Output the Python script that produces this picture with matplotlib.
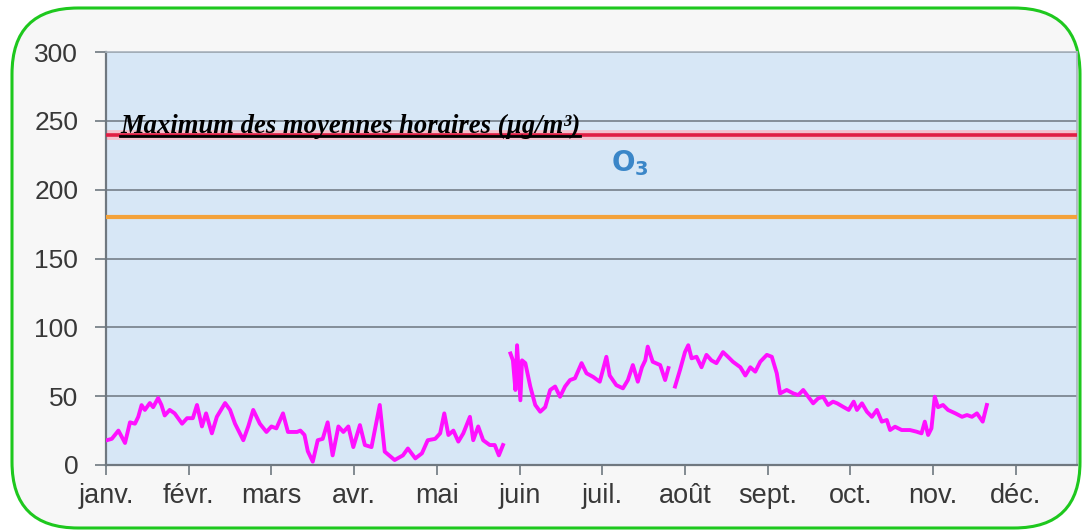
import numpy as np
import matplotlib
matplotlib.use("Agg")
import matplotlib.pyplot as plt
from matplotlib.patches import FancyBboxPatch
from matplotlib.lines import Line2D

# ---------------- data ----------------
months = ["janv.", "févr.", "mars", "avr.", "mai", "juin", "juil.", "août",
          "sept.", "oct.", "nov.", "déc."]
yticks = [0, 50, 100, 150, 200, 250, 300]

# time in months since 1 January, O3 hourly maximum (µg/m³)
seg1_t = [0.01, 0.07, 0.15, 0.23, 0.29, 0.35, 0.39, 0.43, 0.47, 0.53, 0.57, 0.63,
          0.67, 0.71, 0.77, 0.83, 0.92, 0.98, 1.05, 1.10, 1.16, 1.21, 1.28, 1.34,
          1.44, 1.50, 1.56, 1.66, 1.72, 1.78, 1.86, 1.94, 2.00, 2.06, 2.14, 2.20,
          2.31, 2.35, 2.40, 2.44, 2.50, 2.56, 2.62, 2.68, 2.74, 2.81, 2.87, 2.93,
          2.99, 3.07, 3.13, 3.21, 3.31, 3.37, 3.49, 3.59, 3.65, 3.74, 3.82, 3.89,
          3.98, 4.04, 4.09, 4.14, 4.20, 4.26, 4.32, 4.40, 4.44, 4.50, 4.56, 4.64,
          4.70, 4.75, 4.80]
seg1_v = [18, 19, 25, 16, 31, 30, 35, 43.5, 40, 45, 42, 48.6,
          43.6, 36, 40, 37.5, 30, 34, 34, 43.6, 28, 37.5, 23, 35,
          45, 40, 30, 18, 28, 40, 30, 24, 28, 26.6, 37.5, 24,
          24, 25, 21.8, 10, 2.4, 18, 19, 31, 7, 28, 24, 28,
          13, 29, 14.5, 13, 43.6, 9.7, 3.6, 7, 12, 4.8, 8.5, 18,
          19, 23, 37.5, 21.8, 25, 17, 23, 35, 18, 28, 18, 14.5,
          14.5, 7, 14.5]

seg2_t = [4.89, 4.92, 4.95, 4.97, 5.01, 5.03, 5.07, 5.13, 5.19, 5.25, 5.31, 5.37,
          5.43, 5.49, 5.55, 5.61, 5.67, 5.75, 5.81, 5.89, 5.97, 6.05, 6.09, 6.17,
          6.25, 6.31, 6.37, 6.43, 6.48, 6.52, 6.55, 6.61, 6.70, 6.76, 6.80]
seg2_v = [81, 76, 54.5, 87, 47, 76, 74, 57, 43.6, 38.7, 42, 54.5,
          57, 49.6, 57, 61.7, 63, 74, 66.6, 64, 60.5, 78.6, 65, 58,
          55.7, 61.7, 72.6, 60.5, 71, 76, 86, 75, 72.6, 61.7, 70.4]

seg3_t = [6.88, 6.94, 7.00, 7.04, 7.08, 7.14, 7.20, 7.26, 7.32, 7.38, 7.46, 7.52,
          7.58, 7.67, 7.73, 7.79, 7.85, 7.91, 7.99, 8.05, 8.11, 8.15, 8.23, 8.31,
          8.37, 8.43, 8.49, 8.55, 8.61, 8.67, 8.73, 8.79, 8.84, 8.92, 8.98, 9.04,
          9.08, 9.14, 9.20, 9.26, 9.32, 9.38, 9.44, 9.48, 9.54, 9.62, 9.72, 9.80,
          9.86, 9.90, 9.94, 9.98, 10.02, 10.06, 10.12, 10.18, 10.27, 10.35, 10.41,
          10.47, 10.53, 10.60, 10.65]
seg3_v = [57, 69, 82, 87, 77.5, 78.6, 71, 80, 76, 74, 82, 78.6,
          75, 71, 65, 71, 67.8, 75, 80, 78.6, 66.6, 52, 54.5, 52,
          50.8, 54.5, 49.6, 44.8, 48.4, 49.6, 43.6, 46, 44.8, 42, 40, 46,
          40, 44.8, 38.7, 35, 40, 31.5, 32.7, 25.4, 27.8, 25.4, 25.4, 24.2,
          23, 31.5, 21.8, 26.6, 49.6, 42, 43.6, 40, 37.5, 35, 36.3,
          35, 37.5, 31.5, 43.6]

threshold_info = 180   # orange
threshold_alert = 240  # red

title_text = "Maximum des moyennes horaires (µg/m³)"

# ---------------- figure ----------------
fig = plt.figure(figsize=(10.83, 5.30), dpi=100)
fig.patch.set_facecolor("white")

# rounded green frame (inch coordinates)
frame = FancyBboxPatch((0.12, 0.02), 10.68, 5.20,
                       boxstyle="round,pad=0,rounding_size=0.66",
                       transform=fig.dpi_scale_trans, facecolor="#f7f7f7",
                       edgecolor="#1ec81e", linewidth=2.2, zorder=-5)
fig.patches.append(frame)

ax = fig.add_axes([106 / 1083, 1 - 465 / 530, (1077 - 106) / 1083, (465 - 52) / 530])
ax.set_zorder(2)
ax.set_facecolor("#d7e7f6")
ax.set_xlim(0, 11.74)
ax.set_ylim(0, 300)

for y in yticks[1:]:
    ax.axhline(y, color="#7d8792", lw=1.3, zorder=1)

ax.axhline(threshold_alert, color="#f4c0cc", lw=7, zorder=2)
ax.axhline(threshold_alert, color="#e01e44", lw=2.6, zorder=3)
ax.axhline(threshold_info, color="#f3a23a", lw=3.0, zorder=3)

t = seg1_t + [np.nan] + seg2_t + [np.nan] + seg3_t
v = seg1_v + [np.nan] + seg2_v + [np.nan] + seg3_v
ax.plot(t, v, color="#ff10ff", lw=2.8, zorder=4, solid_joinstyle="round")

ax.set_yticks(yticks)
ax.set_yticklabels([str(y) for y in yticks], fontsize=19, color="#383838",
                   family="Liberation Sans")
ax.set_xticks(range(12))
ax.set_xticklabels(months, fontsize=19.5, color="#383838", family="Liberation Sans")
ax.tick_params(axis="y", length=8, width=1.2, color="#6f7880", pad=12)
ax.tick_params(axis="x", length=7, width=1.2, color="#6f7880", pad=6)

for s in ["left", "bottom"]:
    ax.spines[s].set_color("#6f7880")
    ax.spines[s].set_linewidth(1.6)
for s in ["top", "right"]:
    ax.spines[s].set_color("#a9b3bd")
    ax.spines[s].set_linewidth(1.2)

# O3 label
ax.text(6.1, 219, r"$\mathbf{O_3}$", color="#3a86c8", fontsize=20,
        ha="left", va="center", zorder=5)

# underlined bold-italic title
title = fig.text(120 / 1083, 1 - 133 / 530, title_text, family="Liberation Serif",
                 fontsize=19.2, fontweight="bold", fontstyle="italic", color="black",
                 ha="left", va="baseline", zorder=10)
fig.canvas.draw()
bb = title.get_window_extent()
W, H = fig.bbox.width, fig.bbox.height
fig.add_artist(Line2D([bb.x0 / W, bb.x1 / W], [1 - 136 / 530, 1 - 136 / 530],
                      transform=fig.transFigure, color="black", lw=2.0, zorder=10))

fig.savefig("out.png", dpi=100)
